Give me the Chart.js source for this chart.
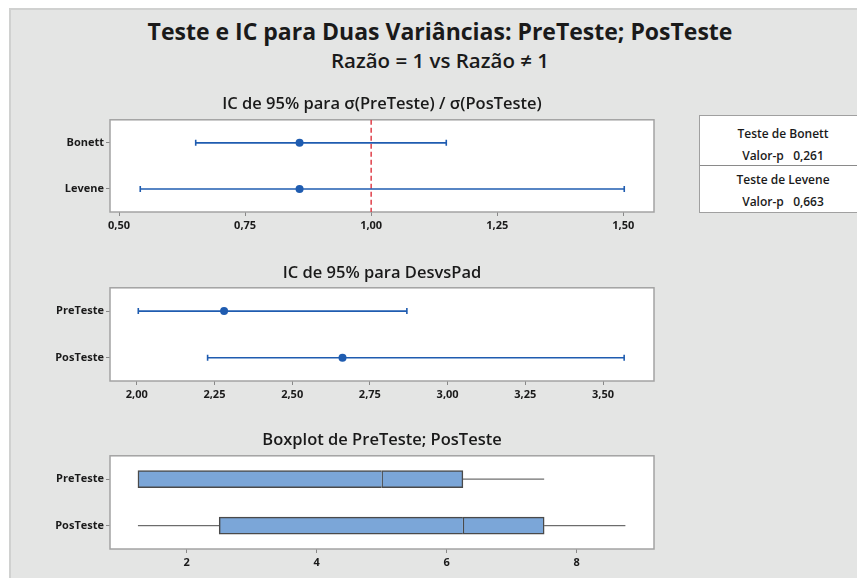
<!DOCTYPE html>
<html>
<head>
<meta charset="utf-8">
<script src="https://cdn.jsdelivr.net/npm/chart.js@4.4.1/dist/chart.umd.min.js"></script>
<style>
html,body{margin:0;padding:0;background:#ffffff;}
body{width:857px;height:578px;position:relative;overflow:hidden;font-family:"Open Sans","Noto Sans",sans-serif;color:#1a1a1a;}
#bg{position:absolute;left:9px;top:8px;width:860px;height:580px;background:#e4e5e4;border-left:2px solid #d0d1d0;border-top:2px solid #d0d1d0;}
.ttl{position:absolute;left:0;width:880px;text-align:center;font-weight:700;white-space:nowrap;}
#t1{top:15px;font-size:23px;}
#t2{top:46px;font-size:20.5px;font-weight:600;}
canvas{position:absolute;left:0;}
#tbl{position:absolute;left:699px;top:115px;width:170px;height:98px;background:#fff;border:1px solid #a0a0a0;box-sizing:border-box;}
.row{position:absolute;left:0;width:166px;text-align:center;font-size:12px;font-weight:600;white-space:nowrap;}
.div{position:absolute;left:0;width:170px;top:49px;border-top:1px solid #8a8a8a;}
</style>
</head>
<body>
<div id="bg"></div>
<div class="ttl" id="t1">Teste e IC para Duas Variâncias: PreTeste; PosTeste</div>
<div class="ttl" id="t2">Razão = 1 vs Razão ≠ 1</div>
<canvas id="c1" width="764" height="150" style="top:90px"></canvas>
<canvas id="c2" width="764" height="155" style="top:255px"></canvas>
<canvas id="c3" width="764" height="158" style="top:420px"></canvas>
<div id="tbl"></div>
<script>
// ---------- data ----------
const ratioCategories = ['Bonett', 'Levene'];
const ratioLower = [0.652, 0.542];
const ratioEstimate = [0.858, 0.858];
const ratioUpper = [1.149, 1.502];
const ratioReference = 1.0;
const ratioTicks = [0.50, 0.75, 1.00, 1.25, 1.50];

const sdCategories = ['PreTeste', 'PosTeste'];
const sdLower = [2.005, 2.228];
const sdEstimate = [2.281, 2.662];
const sdUpper = [2.869, 3.568];
const sdTicks = [2.00, 2.25, 2.50, 2.75, 3.00, 3.25, 3.50];

const boxCategories = ['PreTeste', 'PosTeste'];
const boxMin = [1.25, 1.25];
const boxQ1 = [1.25, 2.5];
const boxMedian = [5.0, 6.25];
const boxQ3 = [6.25, 7.5];
const boxMax = [7.5, 8.75];
const boxTicks = [2, 4, 6, 8];

const testNames = ['Teste de Bonett', 'Teste de Levene'];
const pValues = ['0,261', '0,663'];

// ---------- styles ----------
const FONT = '"Open Sans", "Noto Sans", sans-serif';
const BLUE = '#1f5cb0';
const RED = '#e0404a';
const BOXFILL = '#7ba6d8';
const BOXLINE = '#4a4a4a';
const FRAME = '#a3a3a3';

// p-value table
const tbl = document.getElementById('tbl');
const rowTops = [[9, 31], [55, 77]];
testNames.forEach((n, i) => {
  const a = document.createElement('div');
  a.className = 'row'; a.style.top = rowTops[i][0] + 'px'; a.textContent = n;
  const b = document.createElement('div');
  b.className = 'row'; b.style.top = rowTops[i][1] + 'px';
  b.innerHTML = 'Valor-p&nbsp;&nbsp;&nbsp;' + pValues[i];
  tbl.appendChild(a); tbl.appendChild(b);
});
const dv = document.createElement('div'); dv.className = 'div'; tbl.appendChild(dv);

const framePlugin = {
  id: 'frame',
  beforeDraw(chart) {
    const {ctx, chartArea: a} = chart;
    ctx.save();
    ctx.fillStyle = '#ffffff';
    ctx.fillRect(a.left, a.top, a.right - a.left, a.bottom - a.top);
    ctx.restore();
  },
  beforeDatasetsDraw(chart) {
    const {ctx, chartArea: a} = chart;
    ctx.save();
    ctx.strokeStyle = FRAME;
    ctx.lineWidth = 1.5;
    ctx.strokeRect(a.left, a.top, a.right - a.left, a.bottom - a.top);
    ctx.restore();
  }
};

function baseOptions(title, padTop, padBottom, xmin, xmax, ticks, fmt, cats, xh) {
  return {
    responsive: false,
    animation: false,
    devicePixelRatio: 1,
    events: [],
    layout: {padding: {left: 0, right: 110, top: 0, bottom: 0}},
    plugins: {
      legend: {display: false},
      tooltip: {enabled: false},
      title: {
        display: true, text: title, color: '#1a1a1a', fullSize: false,
        font: {family: FONT, size: 16.5, weight: '600', lineHeight: 1.2},
        padding: {top: padTop, bottom: padBottom}
      }
    },
    scales: {
      x: {
        type: 'linear', min: xmin, max: xmax, offset: false,
        afterBuildTicks: s => { s.ticks = ticks.map(v => ({value: v})); },
        afterFit: s => { s.height = xh; },
        ticks: {callback: v => fmt(v), color: '#1a1a1a', font: {family: FONT, size: 11, weight: '700'}, padding: 3, maxRotation: 0, autoSkip: false},
        grid: {display: true, drawOnChartArea: false, drawTicks: true, tickLength: 4, color: '#888888', offset: false},
        border: {display: false}
      },
      y: {
        type: 'linear', min: -0.5, max: 1.5, reverse: true, offset: false,
        afterBuildTicks: s => { s.ticks = cats.map((c, i) => ({value: i})); },
        afterFit: s => { s.width = 110; },
        ticks: {callback: v => cats[v], color: '#1a1a1a', font: {family: FONT, size: 11, weight: '700'}, padding: 2, autoSkip: false},
        grid: {display: true, drawOnChartArea: false, drawTicks: true, tickLength: 4, color: '#888888', offset: false},
        border: {display: false}
      }
    }
  };
}

function intervalDatasets(cats, lo, est, hi, ref) {
  const ds = [];
  cats.forEach((c, i) => {
    ds.push({
      type: 'line', order: 2,
      data: [{x: lo[i], y: i}, {x: hi[i], y: i}],
      borderColor: BLUE, borderWidth: 1.6,
      pointStyle: 'line', pointRotation: 90, pointRadius: 3,
      pointBorderColor: BLUE, pointBorderWidth: 1.6, pointBackgroundColor: BLUE
    });
  });
  ds.push({
    type: 'scatter', order: 1,
    data: cats.map((c, i) => ({x: est[i], y: i})),
    pointStyle: 'circle', pointRadius: 4, backgroundColor: BLUE, borderColor: BLUE, borderWidth: 0
  });
  if (ref !== null && ref !== undefined) {
    ds.push({
      type: 'line', order: 3,
      data: [{x: ref, y: -0.5}, {x: ref, y: 1.5}],
      borderColor: RED, borderWidth: 1.5, borderDash: [5, 3], pointRadius: 0
    });
  }
  return ds;
}

const fmt2 = v => Number(v).toFixed(2).replace('.', ',');
const fmt0 = v => String(v);

new Chart(document.getElementById('c1'), {
  type: 'scatter',
  data: {datasets: intervalDatasets(ratioCategories, ratioLower, ratioEstimate, ratioUpper, ratioReference)},
  options: baseOptions('IC de 95% para σ(PreTeste) / σ(PosTeste)', 4, 6, 0.482, 1.561, ratioTicks, fmt2, ratioCategories, 28),
  plugins: [framePlugin]
});

new Chart(document.getElementById('c2'), {
  type: 'scatter',
  data: {datasets: intervalDatasets(sdCategories, sdLower, sdEstimate, sdUpper, null)},
  options: baseOptions('IC de 95% para DesvsPad', 8, 5, 1.914, 3.664, sdTicks, fmt2, sdCategories, 29),
  plugins: [framePlugin]
});

const boxDatasets = [
  {
    type: 'bar', indexAxis: 'y', grouped: false, order: 2,
    data: boxCategories.map((c, i) => ({x: [boxQ1[i], boxMedian[i]], y: i})),
    backgroundColor: BOXFILL, borderColor: BOXLINE,
    borderWidth: {top: 1.5, bottom: 1.5, left: 1.5, right: 0}, borderSkipped: false, barThickness: 17
  },
  {
    type: 'bar', indexAxis: 'y', grouped: false, order: 2,
    data: boxCategories.map((c, i) => ({x: [boxMedian[i], boxQ3[i]], y: i})),
    backgroundColor: BOXFILL, borderColor: BOXLINE,
    borderWidth: 1.5, borderSkipped: false, barThickness: 17
  }
];
boxCategories.forEach((c, i) => {
  boxDatasets.push({type: 'line', order: 3, data: [{x: boxMin[i], y: i}, {x: boxQ1[i], y: i}], borderColor: BOXLINE, borderWidth: 1, pointRadius: 0});
  boxDatasets.push({type: 'line', order: 3, data: [{x: boxQ3[i], y: i}, {x: boxMax[i], y: i}], borderColor: BOXLINE, borderWidth: 1, pointRadius: 0});
});

new Chart(document.getElementById('c3'), {
  type: 'scatter',
  data: {datasets: boxDatasets},
  options: baseOptions('Boxplot de PreTeste; PosTeste', 10, 6, 0.82, 9.19, boxTicks, fmt0, boxCategories, 29),
  plugins: [framePlugin]
});
</script>
</body>
</html>
